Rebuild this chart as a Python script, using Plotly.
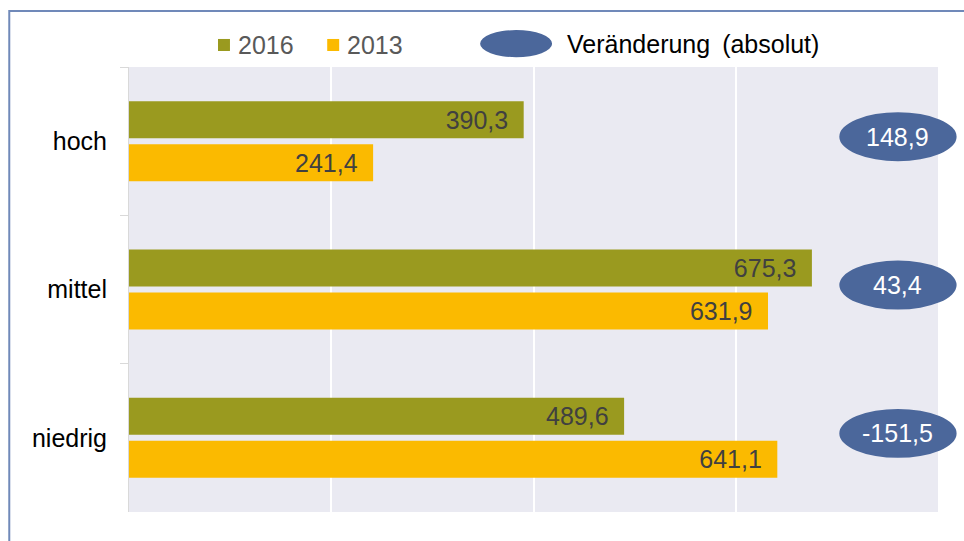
import plotly.graph_objects as go

categories = ["hoch", "mittel", "niedrig"]
values_2016 = [390.3, 675.3, 489.6]
values_2013 = [241.4, 631.9, 641.1]
changes = [148.9, 43.4, -151.5]
series_names = ["2016", "2013"]
legend_change = "Veränderung \u2009(absolut)"

FONT = "Liberation Sans, Arial, sans-serif"
C16 = "#9A9A1F"
C13 = "#FBBA00"
CELL = "#4B679B"

fig = go.Figure()
for name, vals, col in [(series_names[0], values_2016, C16), (series_names[1], values_2013, C13)]:
    fig.add_trace(go.Bar(
        y=categories, x=vals, name=name, orientation="h",
        marker=dict(color=col, line=dict(width=0)),
        texttemplate="%{x:.1f}\u2002", textposition="inside", insidetextanchor="end",
        textfont=dict(size=25, color="#404040", family=FONT),
        showlegend=False,
    ))

shapes = []
annotations = []
# change ellipses
for i, (cat, ch) in enumerate(zip(categories, changes)):
    c = i - 0.03
    shapes.append(dict(type="circle", xref="paper", yref="y",
                       x0=0.878, x1=1.023, y0=c - 0.165, y1=c + 0.165,
                       fillcolor=CELL, line=dict(width=0), layer="above"))
    annotations.append(dict(xref="paper", yref="y", x=0.9505, y=c,
                            xanchor="center", yanchor="middle",
                            text=f"{ch:.1f}".replace(".", ","), showarrow=False,
                            font=dict(size=25, color="white", family=FONT)))

# manual legend
for x0, col, name in [(0.110, C16, series_names[0]), (0.245, C13, series_names[1])]:
    shapes.append(dict(type="rect", xref="paper", yref="paper",
                       x0=x0, x1=x0 + 0.0148, y0=1.036, y1=1.063,
                       fillcolor=col, line=dict(width=0)))
    annotations.append(dict(xref="paper", yref="paper", x=x0 + 0.022, y=1.049,
                            xanchor="left", yanchor="middle", text=name, showarrow=False,
                            font=dict(size=25, color="#595959", family=FONT)))
shapes.append(dict(type="circle", xref="paper", yref="paper",
                   x0=0.434, x1=0.523, y0=1.022, y1=1.083,
                   fillcolor=CELL, line=dict(width=0)))
annotations.append(dict(xref="paper", yref="paper", x=0.539, y=1.052,
                        xanchor="left", yanchor="middle", text=legend_change, showarrow=False,
                        font=dict(size=25, color="#000000", family=FONT)))

# outer border
shapes.append(dict(type="rect", xref="paper", yref="paper",
                   x0=-0.148, x1=1.06, y0=-0.10, y1=1.126,
                   line=dict(color="#7089B9", width=2), fillcolor="rgba(0,0,0,0)", layer="below"))

fig.update_layout(
    width=964, height=541,
    margin=dict(l=129, r=26, t=67, b=29),
    paper_bgcolor="white", plot_bgcolor="#EAEAF2",
    barmode="group", bargap=0.42, bargroupgap=0.14,
    separators=",.",
    font=dict(family=FONT, size=25, color="#000000"),
    uniformtext=dict(minsize=25, mode="show"),
    shapes=shapes, annotations=annotations,
    xaxis=dict(range=[0, 800], dtick=200, showticklabels=False, showgrid=True,
               gridcolor="white", gridwidth=2, zeroline=False, showline=False, fixedrange=True),
    yaxis=dict(autorange="reversed", showline=True, linecolor="#D9D9D9", linewidth=1,
               ticks="outside", tickson="boundaries", ticklen=8, tickcolor="#D9D9D9",
               ticklabelstandoff=16,
               tickfont=dict(size=25, color="#000000", family=FONT), showgrid=False),
)

fig.write_html("out.html")
